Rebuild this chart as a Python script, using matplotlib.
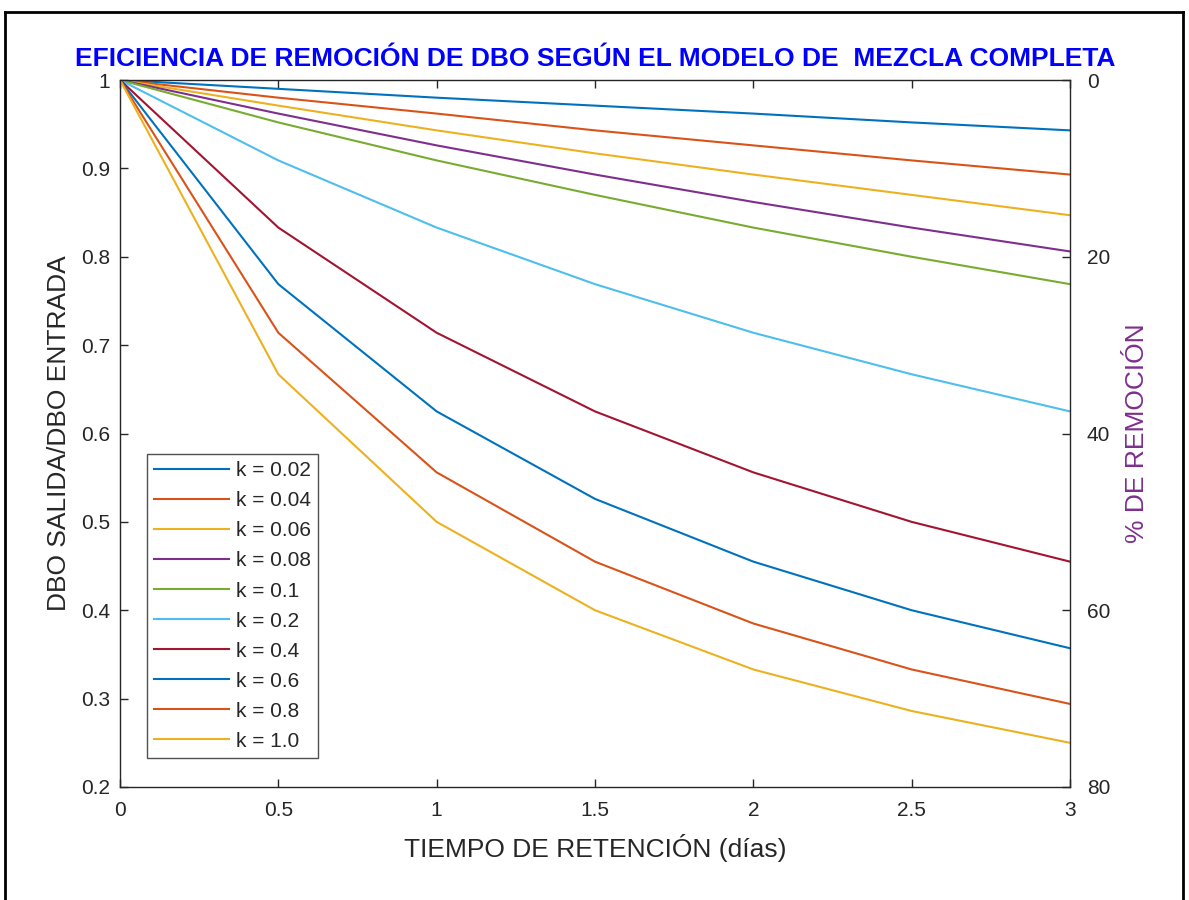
import matplotlib
matplotlib.use("Agg")
import matplotlib.pyplot as plt
from matplotlib.lines import Line2D

t = [0, 0.5, 1, 1.5, 2, 2.5, 3]
labels = ["k = 0.02", "k = 0.04", "k = 0.06", "k = 0.08", "k = 0.1",
          "k = 0.2", "k = 0.4", "k = 0.6", "k = 0.8", "k = 1.0"]
s_002 = [1, 0.990, 0.980, 0.971, 0.962, 0.952, 0.943]
s_004 = [1, 0.980, 0.962, 0.943, 0.926, 0.909, 0.893]
s_006 = [1, 0.971, 0.943, 0.917, 0.893, 0.870, 0.847]
s_008 = [1, 0.962, 0.926, 0.893, 0.862, 0.833, 0.806]
s_01 = [1, 0.952, 0.909, 0.870, 0.833, 0.800, 0.769]
s_02 = [1, 0.909, 0.833, 0.769, 0.714, 0.667, 0.625]
s_04 = [1, 0.833, 0.714, 0.625, 0.556, 0.500, 0.455]
s_06 = [1, 0.769, 0.625, 0.526, 0.455, 0.400, 0.357]
s_08 = [1, 0.714, 0.556, 0.455, 0.385, 0.333, 0.294]
s_10 = [1, 0.667, 0.500, 0.400, 0.333, 0.286, 0.250]
series = [s_002, s_004, s_006, s_008, s_01, s_02, s_04, s_06, s_08, s_10]

x_ticks = [0, 0.5, 1, 1.5, 2, 2.5, 3]
x_tick_labels = ["0", "0.5", "1", "1.5", "2", "2.5", "3"]
y_ticks = [0.2, 0.3, 0.4, 0.5, 0.6, 0.7, 0.8, 0.9, 1.0]
y_tick_labels = ["0.2", "0.3", "0.4", "0.5", "0.6", "0.7", "0.8", "0.9", "1"]
r_ticks = [0, 20, 40, 60, 80]

colors = [(0, 0.447, 0.741), (0.85, 0.325, 0.098), (0.929, 0.694, 0.125),
          (0.494, 0.184, 0.556), (0.466, 0.674, 0.188), (0.301, 0.745, 0.933),
          (0.635, 0.078, 0.184), (0, 0.447, 0.741), (0.85, 0.325, 0.098),
          (0.929, 0.694, 0.125)]

plt.rcParams['font.family'] = ['Liberation Sans', 'DejaVu Sans']
txt = (0.15, 0.15, 0.15)

fig = plt.figure(figsize=(11.89, 9), dpi=100)
W, H = 1189, 900
ax = fig.add_axes([120 / W, 1 - 787 / H, (1070 - 120) / W, (787 - 80) / H])

for s, c, lab in zip(series, colors, labels):
    ax.plot(t, s, color=c, lw=1.5, label=lab)

ax.set_xlim(0, 3)
ax.set_ylim(0.2, 1.0)
ax.set_xticks(x_ticks)
ax.set_xticklabels(x_tick_labels)
ax.set_yticks(y_ticks)
ax.set_yticklabels(y_tick_labels)
ax.tick_params(direction='in', length=6, width=1, labelsize=15, colors=txt,
               top=True, right=True)
ax.tick_params(axis='y', pad=7)
ax.tick_params(axis='x', pad=10)
for sp in ax.spines.values():
    sp.set_color(txt)
    sp.set_linewidth(1)

ax.set_xlabel("TIEMPO DE RETENCIÓN (días)", fontsize=19, color=txt, labelpad=10)
ax.set_ylabel("DBO SALIDA/DBO ENTRADA", fontsize=19, color=txt, labelpad=7)
ax.set_title("EFICIENCIA DE REMOCIÓN DE DBO SEGÚN EL MODELO DE  MEZCLA COMPLETA",
             fontsize=19, fontweight='bold', color=(0, 0, 1), pad=10)

ax2 = ax.twinx()
ax2.set_ylim(80, 0)
ax2.set_yticks(r_ticks)
ax2.tick_params(direction='in', length=6, width=1, labelsize=15, colors=txt, pad=12)
for sp in ax2.spines.values():
    sp.set_visible(False)
ax2.set_ylabel("% DE REMOCIÓN", fontsize=19, color=(0.494, 0.184, 0.556), labelpad=11)

leg = ax.legend(loc='lower left', bbox_to_anchor=(0.0284, 0.041), fontsize=15,
                frameon=True, fancybox=False, handlelength=3.6, handletextpad=0.3,
                labelspacing=0.53, borderpad=0.35, borderaxespad=0)
leg.get_frame().set_edgecolor(txt)
leg.get_frame().set_linewidth(1)
for tx in leg.get_texts():
    tx.set_color(txt)

# outer frame
fig.add_artist(Line2D([5 / W, 1183 / W], [1 - 12 / H, 1 - 12 / H], color='black', lw=2))
fig.add_artist(Line2D([5 / W, 5 / W], [0, 1 - 12 / H], color='black', lw=2))
fig.add_artist(Line2D([1183 / W, 1183 / W], [0, 1 - 12 / H], color='black', lw=2))

fig.savefig("out.png", dpi=100)
